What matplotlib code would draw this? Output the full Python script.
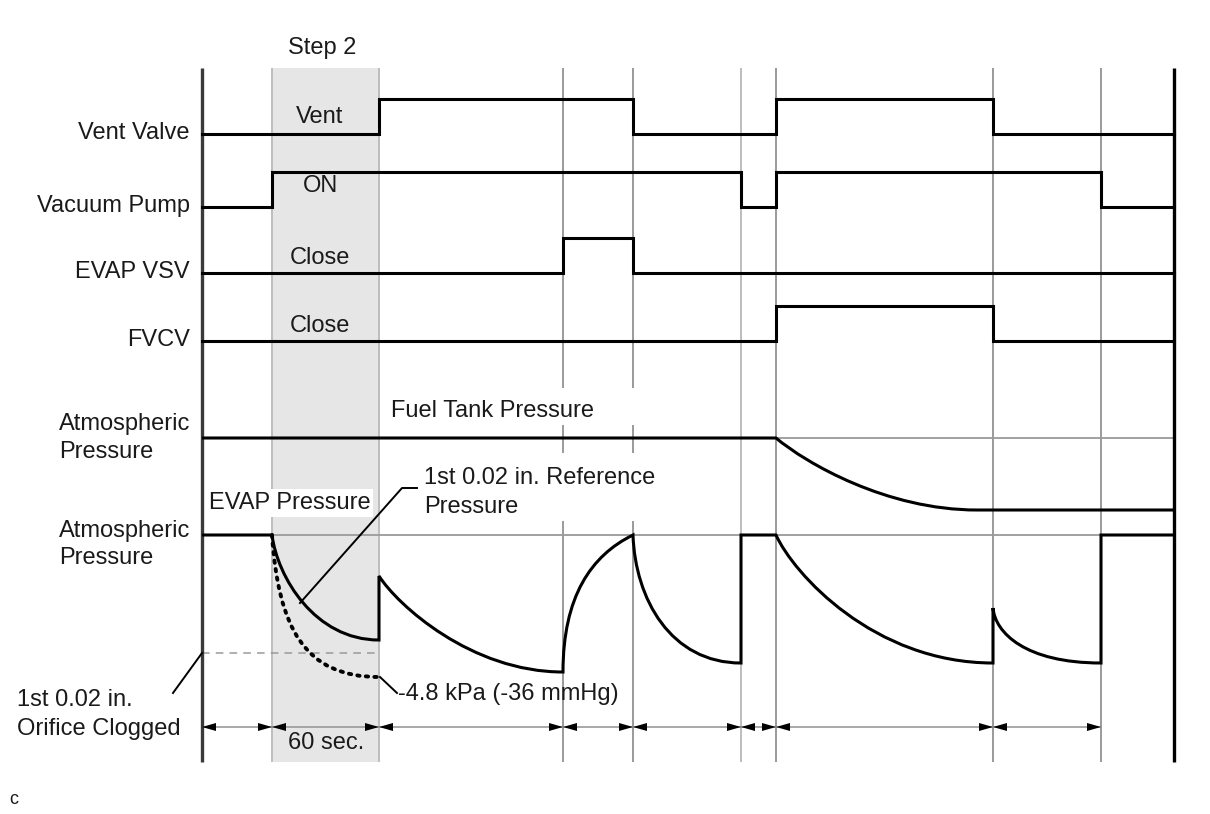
import matplotlib
matplotlib.use("Agg")
import matplotlib.pyplot as plt
from matplotlib.path import Path
from matplotlib.patches import PathPatch, Rectangle

plt.rcParams['font.family'] = ['Liberation Sans', 'DejaVu Sans']

# ---------------- data (diagram units) ----------------
# event times along the time axis
event_x = [202, 272, 379, 563, 633, 741, 776, 993, 1101, 1174]
light_marks = [272, 379, 741]
gapped_marks = [563, 633]
step2_start, step2_end = 272, 379

# digital signals
signal_names = ['Vent Valve', 'Vacuum Pump', 'EVAP VSV', 'FVCV']
signal_low = [134, 207, 273, 341]
signal_swing = 35
vent_edges = [202, 379, 633, 776, 993, 1174]
vent_states = [0, 1, 0, 1, 0]
pump_edges = [202, 272, 741, 776, 1101, 1174]
pump_states = [0, 1, 0, 1, 0]
vsv_edges = [202, 563, 633, 1174]
vsv_states = [0, 1, 0]
fvcv_edges = [202, 776, 993, 1174]
fvcv_states = [0, 1, 0]
signal_edges = [vent_edges, pump_edges, vsv_edges, fvcv_edges]
signal_states = [vent_states, pump_states, vsv_states, fvcv_states]
state_labels = ['Vent', 'ON', 'Close', 'Close']

# pressure traces (atmospheric levels)
fuel_atm = 438
evap_atm = 535
fuel_x0 = [202, 776, 977]
fuel_x1 = [776, 977, 1174]
fuel_y0 = [438, 438, 510]
fuel_y1 = [438, 510, 510]
fuel_shape = [None, (0.15, 0.35, 0.55, 1.0), None]

evap_x0 = [202, 272, 379, 563, 633, 741, 776, 993, 1101]
evap_x1 = [272, 379, 563, 633, 741, 776, 993, 1101, 1174]
evap_y0 = [535, 535, 576, 672, 535, 535, 535, 608, 535]
evap_y1 = [535, 640, 672, 535, 663, 535, 663, 663, 535]
evap_shape = [None, (0.05, 0.4, 0.4, 1.0), (0.1, 0.3, 0.5, 1.0),
              (0.0, 0.55, 0.4, 0.85), (0.02, 0.5, 0.35, 1.0), None,
              (0.08, 0.3, 0.45, 1.0), (0.02, 0.45, 0.3, 1.0), None]

clogged_x0, clogged_x1 = [272], [379]
clogged_y0, clogged_y1 = [535], [677]
clogged_shape = [(0.06, 0.65, 0.3, 1.0)]

reference_level = 653
dim_marks = [202, 272, 379, 563, 633, 741, 776, 993, 1101]
dim_y = 727

# ---------------- figure ----------------
fig = plt.figure(figsize=(12.1, 8.14), dpi=100)
ax = fig.add_axes([0, 0, 1, 1])
ax.set_xlim(0, 1210)
ax.set_ylim(814, 0)
ax.axis('off')

TOP, BOT = 68, 762
TXT = '#1a1a1a'
FS = 17

# shaded step 2 window
ax.add_patch(Rectangle((step2_start, TOP), step2_end - step2_start, BOT - TOP,
                       facecolor='#e6e6e6', edgecolor='none', zorder=0))

# vertical event lines
for x in event_x:
    if x == event_x[0]:
        ax.plot([x, x], [TOP, BOT], color='#3a3a3a', lw=2.4, zorder=3,
                solid_capstyle='butt')
    elif x == event_x[-1]:
        ax.plot([x, x], [TOP, BOT], color='black', lw=2.4, zorder=3,
                solid_capstyle='butt')
    elif x in gapped_marks:
        for a, b in [(TOP, 388), (425, 453), (521, BOT)]:
            ax.plot([x, x], [a, b], color='#9a9a9a', lw=1.4, zorder=1,
                    solid_capstyle='butt')
    else:
        c = '#bdbdbd' if x in light_marks else '#9a9a9a'
        ax.plot([x, x], [TOP, BOT], color=c, lw=1.4, zorder=1,
                solid_capstyle='butt')

# atmospheric reference lines
for yl in (fuel_atm, evap_atm):
    ax.plot([event_x[0], event_x[-1]], [yl, yl], color='#9a9a9a', lw=1.3, zorder=1)

# digital signals
for name, base, edges, states in zip(signal_names, signal_low, signal_edges, signal_states):
    levels = [base - s * signal_swing for s in states]
    levels.append(levels[-1])
    ax.step(edges, levels, where='post', color='black', lw=2.2, zorder=4,
            solid_joinstyle='miter')
    ax.text(190, base - 1, name, ha='right', va='center', fontsize=FS, color=TXT)

state_y = [117, 186, 258, 326]
for lab, yy in zip(state_labels, state_y):
    ax.text(320, yy, lab, ha='center', va='center', fontsize=FS, color=TXT, zorder=5)


def build_path(x0s, x1s, y0s, y1s, shapes):
    verts, codes = [], []
    for i, (x0, x1, y0, y1, sh) in enumerate(zip(x0s, x1s, y0s, y1s, shapes)):
        verts.append((x0, y0))
        codes.append(Path.MOVETO if i == 0 else Path.LINETO)
        dx, dy = x1 - x0, y1 - y0
        if sh is None:
            verts.append((x1, y1))
            codes.append(Path.LINETO)
        else:
            h1, v1, h2, v2 = sh
            verts += [(x0 + h1 * dx, y0 + v1 * dy), (x0 + h2 * dx, y0 + v2 * dy), (x1, y1)]
            codes += [Path.CURVE4] * 3
    return Path(verts, codes)


ax.add_patch(PathPatch(build_path(fuel_x0, fuel_x1, fuel_y0, fuel_y1, fuel_shape),
                       fill=False, edgecolor='black', lw=2.2, zorder=4, joinstyle='miter'))
ax.add_patch(PathPatch(build_path(evap_x0, evap_x1, evap_y0, evap_y1, evap_shape),
                       fill=False, edgecolor='black', lw=2.2, zorder=4, joinstyle='miter'))
ax.add_patch(PathPatch(build_path(clogged_x0, clogged_x1, clogged_y0, clogged_y1, clogged_shape),
                       fill=False, edgecolor='black', lw=2.8, zorder=4,
                       linestyle=(0, (0.6, 1.6)), capstyle='round'))

# reference (clogged) dashed level
ax.plot([event_x[0], step2_end], [reference_level, reference_level], color='#9a9a9a',
        lw=1.1, ls=(0, (5, 4)), zorder=2)

# leaders
ax.plot([300, 402, 417], [603, 488, 488], color='black', lw=1.4, zorder=5)
ax.plot([380, 397], [677, 693], color='black', lw=1.4, zorder=5)
ax.plot([202, 173], [653, 693], color='black', lw=1.4, zorder=5)

# dimension line with arrowheads
ax.plot([dim_marks[0], dim_marks[-1]], [dim_y, dim_y], color='#9a9a9a', lw=1.2, zorder=2)
L, H = 14, 4.0
for a, b in zip(dim_marks[:-1], dim_marks[1:]):
    ax.fill([a, a + L, a + L], [dim_y, dim_y - H, dim_y + H], color='black', zorder=5, lw=0)
    ax.fill([b, b - L, b - L], [dim_y, dim_y - H, dim_y + H], color='black', zorder=5, lw=0)

# texts
ax.text(322, 48, 'Step 2', ha='center', va='center', fontsize=FS, color=TXT)
ax.text(391, 411, 'Fuel Tank Pressure', ha='left', va='center', fontsize=FS, color=TXT)
ax.text(209, 503, 'EVAP Pressure', ha='left', va='center', fontsize=FS, color=TXT, zorder=6,
        bbox=dict(facecolor='white', edgecolor='none', pad=2.0))
ax.text(424, 478, '1st 0.02 in. Reference', ha='left', va='center', fontsize=FS, color=TXT)
ax.text(424, 507, 'Pressure', ha='left', va='center', fontsize=FS, color=TXT)
ax.text(398, 694, '-4.8 kPa (-36 mmHg)', ha='left', va='center', fontsize=FS, color=TXT)
ax.text(326, 743, '60 sec.', ha='center', va='center', fontsize=FS, color=TXT)
for yy, s in [(424, 'Atmospheric'), (452, 'Pressure'), (531, 'Atmospheric'), (558, 'Pressure')]:
    ax.text(59, yy, s, ha='left', va='center', fontsize=FS, color=TXT)
ax.text(17, 700, '1st 0.02 in.', ha='left', va='center', fontsize=FS, color=TXT)
ax.text(17, 729, 'Orifice Clogged', ha='left', va='center', fontsize=FS, color=TXT)
ax.text(9, 800, 'c', ha='left', va='center', fontsize=13, color=TXT)

fig.savefig('out.png', dpi=100)
